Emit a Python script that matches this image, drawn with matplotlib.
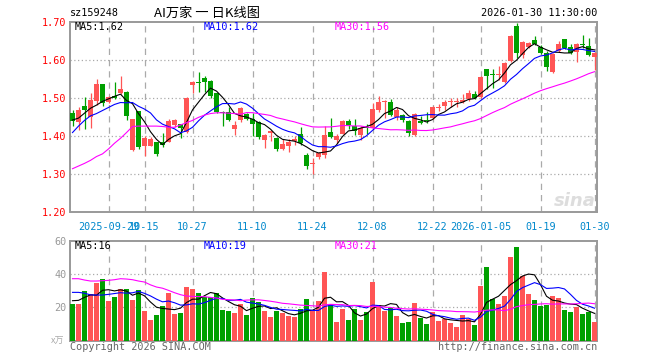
import numpy as np
import pandas as pd
import matplotlib
matplotlib.use("Agg")
import matplotlib.pyplot as plt
import matplotlib.transforms as mtransforms

# ---------------- data ----------------
dates = pd.bdate_range("2025-09-19", "2026-01-30")
holidays = pd.to_datetime(["2025-10-01", "2025-10-02", "2025-10-03", "2025-10-06",
                           "2025-10-07", "2025-10-08", "2026-01-01", "2026-01-02"])
dates = dates[~dates.isin(holidays)]

opens = [1.460, 1.436, 1.477, 1.450, 1.491, 1.535, 1.489, 1.505, 1.513, 1.515,
         1.362, 1.465, 1.374, 1.374, 1.383, 1.383, 1.383, 1.428, 1.430, 1.410,
         1.533, 1.541, 1.552, 1.543, 1.512, 1.463, 1.461, 1.417, 1.440, 1.458,
         1.444, 1.437, 1.388, 1.406, 1.394, 1.365, 1.372, 1.385, 1.403, 1.349,
         1.326, 1.345, 1.349, 1.410, 1.388, 1.405, 1.438, 1.426, 1.401, 1.423,
         1.421, 1.468, 1.489, 1.489, 1.449, 1.454, 1.439, 1.401, 1.439, 1.442,
         1.447, 1.472, 1.477, 1.488, 1.489, 1.488, 1.495, 1.510, 1.502, 1.575,
         1.562, 1.560, 1.541, 1.595, 1.688, 1.611, 1.633, 1.651, 1.633, 1.617,
         1.567, 1.623, 1.653, 1.632, 1.620, 1.641, 1.635, 1.607]
highs = [1.467, 1.474, 1.501, 1.512, 1.548, 1.536, 1.505, 1.540, 1.557, 1.516,
         1.445, 1.466, 1.398, 1.396, 1.384, 1.408, 1.443, 1.445, 1.431, 1.501,
         1.543, 1.568, 1.556, 1.545, 1.513, 1.464, 1.475, 1.439, 1.476, 1.460,
         1.459, 1.438, 1.405, 1.414, 1.396, 1.392, 1.390, 1.398, 1.423, 1.353,
         1.341, 1.358, 1.425, 1.446, 1.405, 1.441, 1.443, 1.443, 1.426, 1.430,
         1.486, 1.504, 1.493, 1.496, 1.475, 1.458, 1.440, 1.460, 1.452, 1.461,
         1.479, 1.484, 1.493, 1.499, 1.499, 1.509, 1.520, 1.518, 1.556, 1.576,
         1.575, 1.582, 1.594, 1.664, 1.696, 1.648, 1.646, 1.662, 1.638, 1.622,
         1.617, 1.650, 1.655, 1.640, 1.643, 1.664, 1.657, 1.620]
lows = [1.425, 1.416, 1.418, 1.420, 1.480, 1.478, 1.485, 1.497, 1.510, 1.440,
        1.360, 1.364, 1.347, 1.372, 1.346, 1.371, 1.382, 1.422, 1.395, 1.408,
        1.513, 1.515, 1.515, 1.500, 1.459, 1.425, 1.438, 1.401, 1.436, 1.440,
        1.398, 1.390, 1.368, 1.385, 1.360, 1.362, 1.358, 1.376, 1.376, 1.313,
        1.300, 1.339, 1.340, 1.394, 1.381, 1.403, 1.417, 1.401, 1.389, 1.405,
        1.419, 1.462, 1.447, 1.452, 1.442, 1.436, 1.399, 1.399, 1.430, 1.432,
        1.445, 1.465, 1.467, 1.474, 1.476, 1.485, 1.490, 1.497, 1.500, 1.522,
        1.525, 1.546, 1.538, 1.593, 1.605, 1.605, 1.630, 1.638, 1.615, 1.569,
        1.565, 1.620, 1.628, 1.615, 1.594, 1.630, 1.610, 1.572]
closes = [1.438, 1.468, 1.467, 1.493, 1.535, 1.487, 1.501, 1.500, 1.522, 1.452,
          1.445, 1.370, 1.393, 1.391, 1.352, 1.375, 1.438, 1.441, 1.419, 1.500,
          1.540, 1.539, 1.541, 1.504, 1.461, 1.459, 1.441, 1.427, 1.472, 1.445,
          1.431, 1.396, 1.401, 1.412, 1.364, 1.378, 1.383, 1.390, 1.381, 1.320,
          1.328, 1.353, 1.401, 1.396, 1.400, 1.438, 1.427, 1.412, 1.421, 1.420,
          1.469, 1.489, 1.491, 1.454, 1.467, 1.442, 1.408, 1.456, 1.434, 1.439,
          1.474, 1.475, 1.489, 1.490, 1.491, 1.494, 1.512, 1.500, 1.554, 1.556,
          1.560, 1.562, 1.591, 1.662, 1.616, 1.646, 1.644, 1.640, 1.617, 1.581,
          1.615, 1.642, 1.631, 1.618, 1.640, 1.638, 1.613, 1.618]
volumes = [22.0, 22.0, 29.8, 27.8, 34.8, 36.8, 23.8, 26.2, 31.0, 31.0,
           24.4, 30.4, 17.8, 12.4, 15.4, 20.8, 28.6, 16.0, 16.8, 32.2,
           31.0, 28.6, 26.4, 26.4, 28.6, 18.4, 17.8, 16.6, 22.0, 15.4,
           25.6, 23.4, 17.8, 14.2, 17.8, 16.6, 14.8, 14.2, 19.0, 25.0,
           18.4, 23.8, 41.2, 22.0, 11.2, 19.0, 12.4, 19.0, 12.4, 17.2,
           35.2, 21.4, 17.8, 19.6, 14.8, 10.6, 11.2, 22.6, 13.6, 10.0,
           17.2, 11.8, 13.0, 10.6, 8.2, 15.4, 13.0, 9.4, 32.8, 44.2,
           25.0, 22.0, 26.8, 50.2, 56.2, 38.8, 28.0, 24.4, 20.8, 21.4,
           26.8, 25.6, 18.4, 17.5, 20.0, 16.0, 17.5, 11.0]

# moving-average values before a full window exists
ma5_head = [1.441, 1.446, 1.459, 1.472]
ma10_head = [1.408, 1.425, 1.440, 1.452, 1.458, 1.466, 1.474, 1.482, 1.487]
ma30_head = [1.313, 1.320, 1.327, 1.335, 1.345, 1.352, 1.365, 1.380, 1.393, 1.408,
             1.424, 1.425, 1.425, 1.425, 1.425, 1.424, 1.422, 1.422, 1.428, 1.434,
             1.440, 1.448, 1.454, 1.458, 1.460, 1.460, 1.459, 1.458, 1.456]
vma5_head = [24.0, 24.2, 26.0, 27.5]
vma10_head = [29.0, 29.0, 28.5, 27.5, 27.4, 27.4, 27.8, 28.3, 28.8]
vma30_head = [37.2, 37.2, 36.4, 35.8, 35.8, 36.0, 36.2, 36.6, 37.2, 37.0,
              36.6, 35.8, 35.2, 33.5, 32.2, 31.5, 30.2, 28.8, 27.6, 26.8,
              26.6, 26.5, 26.4, 26.0, 25.6, 24.8, 24.6, 24.4, 24.0]

# legend values as printed on the chart
price_ma_labels = ["MA5:1.62", "MA10:1.62", "MA30:1.56"]
vol_ma_labels = ["MA5:16", "MA10:19", "MA30:21"]

tick_idx = [6, 12, 20, 30, 40, 50, 60, 68, 78, 87]
tick_labels = ["2025-09-29", "10-15", "10-27", "11-10", "11-24", "12-08",
               "12-22", "2026-01-05", "01-19", "01-30"]
price_ticks = [1.20, 1.30, 1.40, 1.50, 1.60, 1.70]
vol_ticks = [20, 40, 60]

# ---------------- helpers ----------------
def ma(values, n, head):
    s = pd.Series(values).rolling(n).mean().to_numpy()
    s[:len(head)] = head
    return s

c = np.array(closes)
o = np.array(opens)
h = np.array(highs)
l = np.array(lows)
v = np.array(volumes)
x = np.arange(len(c))

ma5 = ma(closes, 5, ma5_head)
ma10 = ma(closes, 10, ma10_head)
ma30 = ma(closes, 30, ma30_head)
vma5 = ma(volumes, 5, vma5_head)
vma10 = ma(volumes, 10, vma10_head)
vma30 = ma(volumes, 30, vma30_head)

RED = "#ff5555"
GREEN = "#00a000"
FRAME = "#999999"
GRID = "#aaaaaa"
MONO = "DejaVu Sans Mono"
FS = 7.3
MA_COLORS = ["black", "#0000ff", "#ff00ff"]
MA_X = [75, 204, 335]

W, H = 660, 360
fig = plt.figure(figsize=(6.6, 3.6), dpi=100)
fig.patch.set_facecolor("white")

def fx(px):
    return px / W

def fy(py):
    return 1 - py / H

L, R = 70, 597
ax = fig.add_axes([fx(L), fy(211.7), (R - L) / W, (211.7 - 21.5) / H])
axv = fig.add_axes([fx(L), fy(340.7), (R - L) / W, (340.7 - 240.7) / H])

xmin = -2.5 / 6
xmax = xmin + (R - L) / 6

up = c >= o
colors = np.where(up, RED, GREEN)

# candles
ax.vlines(x, l, h, colors=colors, linewidth=0.9, zorder=3)
body_lo = np.minimum(o, c)
body_h = np.maximum(np.abs(c - o), 0.0015)
ax.bar(x, body_h, bottom=body_lo, width=0.78, color=colors, linewidth=0, zorder=4)

for series, col in zip((ma5, ma10, ma30), MA_COLORS):
    ax.plot(x, series, color=col, lw=0.8, zorder=5)

# volume
axv.bar(x, v, width=0.84, color=colors, linewidth=0, zorder=3)
for series, col in zip((vma5, vma10, vma30), MA_COLORS):
    axv.plot(x, series, color=col, lw=0.8, zorder=5)

for a, lo, hi in ((ax, 1.20, 1.70), (axv, 0, 60)):
    a.set_xlim(xmin, xmax)
    a.set_ylim(lo, hi)
    for s in a.spines.values():
        s.set_color(FRAME)
        s.set_linewidth(1.4)
    a.set_xticks([])
    for k in tick_idx:
        a.axvline(k, color=GRID, lw=0.9, ls=(0, (5, 4)), zorder=1)

for yv in [1.30, 1.40, 1.50, 1.60]:
    ax.axhline(yv, color=GRID, lw=0.9, ls=(0, (1, 2)), zorder=1)
for yv in [20, 40]:
    axv.axhline(yv, color=GRID, lw=0.9, ls=(0, (1, 2)), zorder=1)

ax.set_yticks(price_ticks)
ax.set_yticklabels([f"{t:.2f}" for t in price_ticks], color="red",
                   fontsize=FS, family=MONO)
ax.tick_params(axis="y", length=0, pad=2.5)
axv.set_yticks(vol_ticks)
axv.set_yticklabels([str(t) for t in vol_ticks], color="#999999",
                    fontsize=FS, family=MONO)
axv.tick_params(axis="y", length=0, pad=2.5)

trans = mtransforms.blended_transform_factory(ax.transData, ax.transAxes)
for k, lab in zip(tick_idx, tick_labels):
    ax.text(k, -(227.5 - 211.7) / 190.2, lab, transform=trans, ha="center",
            va="center", fontsize=FS, family=MONO, color="#0088cc")

# watermark
fig.text(fx(596), fy(201), "sina", ha="right", va="center", fontsize=13,
         fontweight="bold", style="italic", color="#dddddd", family="DejaVu Sans")

# header texts
fig.text(fx(70), fy(13), "sz159248", ha="left", va="center", fontsize=FS,
         family=MONO, color="black")
fig.text(fx(207), fy(13), "AI万家 一 日K线图", ha="center", va="center",
         fontsize=9.5, family=["Noto Sans CJK SC", "DejaVu Sans"], color="black")
fig.text(fx(597), fy(13), "2026-01-30 11:30:00", ha="right", va="center",
         fontsize=FS, family=MONO, color="black")

# MA labels
for lab, col, px in zip(price_ma_labels, MA_COLORS, MA_X):
    fig.text(fx(px), fy(26.5), lab, ha="left", va="center",
             fontsize=FS, family=MONO, color=col)
for lab, col, px in zip(vol_ma_labels, MA_COLORS, MA_X):
    fig.text(fx(px), fy(246), lab, ha="left", va="center",
             fontsize=FS, family=MONO, color=col)

fig.text(fx(64), fy(341), "x万", ha="right", va="center", fontsize=6.5,
         family=["Noto Sans CJK SC", "DejaVu Sans"], color="#aaaaaa")

fig.text(fx(70), fy(347), "Copyright 2026 SINA.COM", ha="left", va="center",
         fontsize=FS, family=MONO, color="#666666")
fig.text(fx(597), fy(347), "http://finance.sina.com.cn", ha="right", va="center",
         fontsize=FS, family=MONO, color="#666666")

fig.savefig("out.png", dpi=100, facecolor="white")
